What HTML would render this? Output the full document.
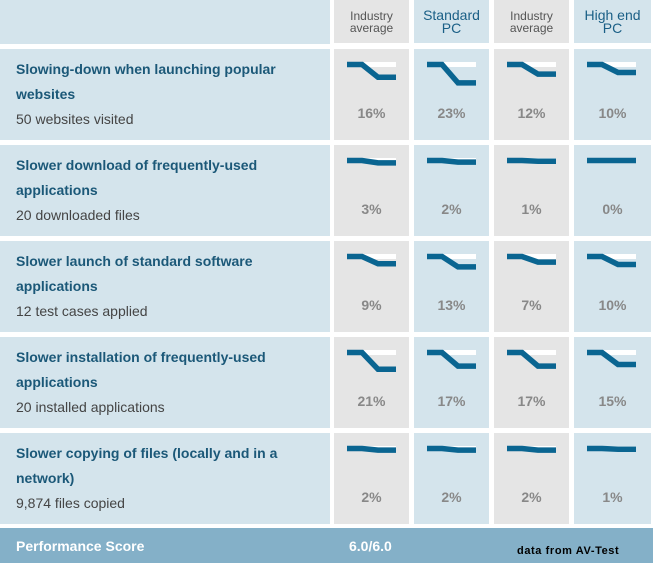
<!DOCTYPE html><html><head><style>
body{margin:0;width:653px;height:565px;background:#fff;position:relative;font-family:"Liberation Sans",sans-serif;overflow:hidden}
.c{position:absolute}
.g{background:#e5e5e5}.b{background:#d4e4ec}
.h{font-size:12px;color:#555;text-align:center;line-height:12px}
.hb{font-size:14px;color:#1a5f86;text-align:center;line-height:13px}
.t{font-size:14px;font-weight:bold;color:#1b5878;line-height:25px;position:absolute;left:16px;top:8px;width:300px}
.s{font-size:14px;color:#444;font-weight:normal}
.p{position:absolute;width:100%;text-align:center;font-size:14px;font-weight:bold;color:#888;top:56px}
svg{position:absolute;left:0;top:0}
</style></head><body>
<div class="c b" style="left:0;top:0;width:330px;height:44px"></div>
<div class="c g h" style="left:334px;top:0;width:75px;height:43px"><div style="padding-top:10px">Industry<br>average</div></div>
<div class="c b hb" style="left:414px;top:0;width:75px;height:43px"><div style="padding-top:9px">Standard<br>PC</div></div>
<div class="c g h" style="left:494px;top:0;width:75px;height:43px"><div style="padding-top:10px">Industry<br>average</div></div>
<div class="c b hb" style="left:574px;top:0;width:77px;height:43px"><div style="padding-top:9px">High end<br>PC</div></div>
<div id="rows"></div>
<div class="c" style="left:0;top:528px;width:653px;height:35px;background:#84b0c8"></div>
<div class="c" style="left:16px;top:538px;font-size:14px;font-weight:bold;color:#fff">Performance Score</div>
<div class="c" style="left:349px;top:538px;font-size:14px;font-weight:bold;color:#fff">6.0/6.0</div>
<div class="c" style="left:517px;top:545px;font-size:11px;font-weight:bold;color:#000;letter-spacing:0.6px">data from AV-Test</div>
<script>
var R=[["Slowing-down when launching popular","websites","50 websites visited",[16,23,12,10]],
["Slower download of frequently-used","applications","20 downloaded files",[3,2,1,0]],
["Slower launch of standard software","applications","12 test cases applied",[9,13,7,10]],
["Slower installation of frequently-used","applications","20 installed applications",[21,17,17,15]],
["Slower copying of files (locally and in a","network)","9,874 files copied",[2,2,2,1]]];
var X=[334,414,494,574],W=[75,75,75,77],h="";
R.forEach(function(r,i){var y=49+i*96;
h+='<div class="c b" style="left:0;top:'+y+'px;width:330px;height:91px"><div class="t">'+r[0]+'<br>'+r[1]+'<br><span class="s">'+r[2]+'</span></div></div>';
for(var j=0;j<4;j++){var p=r[3][j],d=p*0.8;
h+='<div class="c '+(j%2?'b':'g')+'" style="left:'+X[j]+'px;top:'+y+'px;width:'+W[j]+'px;height:91px"><svg width="80" height="91"><rect x="30" y="13" width="32" height="5" fill="#fff"/><polyline points="13,15.5 28,15.5 44,'+(15.5+d)+' 62,'+(15.5+d)+'" fill="none" stroke="#0a6591" stroke-width="5.5"/></svg><div class="p">'+p+'%</div></div>';}
});
document.getElementById("rows").innerHTML=h;
</script></body></html>
